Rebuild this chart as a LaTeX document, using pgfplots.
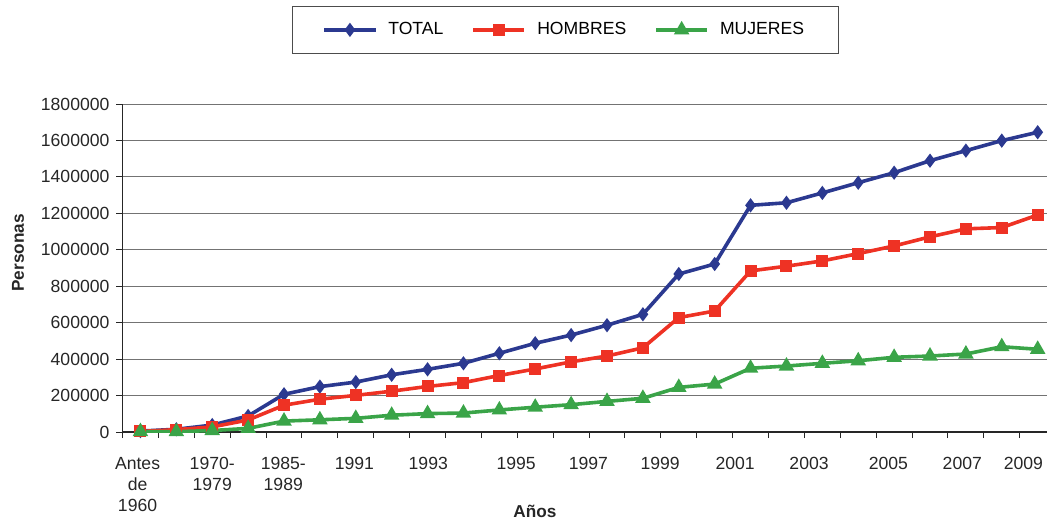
\documentclass[border=0pt]{standalone}
\usepackage{fontspec}
\setmainfont{Liberation Sans}
\usepackage{pgfplots}
\usepackage{pgfplotstable}
\pgfplotsset{compat=1.18}
\definecolor{cTotal}{RGB}{43,57,144}
\definecolor{cHom}{RGB}{238,50,36}
\definecolor{cMuj}{RGB}{58,164,72}
\pgfplotstableread{
idx total hombres mujeres
0 5000 3000 2000
1 15000 13000 2000
2 38000 28000 8000
3 88000 66000 20000
4 207000 147000 60000
5 249000 180000 67000
6 274000 201000 75000
7 314000 224000 92000
8 344000 250000 101000
9 377000 271000 104000
10 432000 310000 121000
11 487000 346000 136000
12 532000 385000 150000
13 586000 417000 168000
14 646000 462000 185000
15 867000 628000 245000
16 922000 664000 263000
17 1244000 884000 350000
18 1258000 910000 362000
19 1312000 939000 377000
20 1368000 979000 391000
21 1423000 1021000 410000
22 1489000 1071000 417000
23 1544000 1115000 428000
24 1599000 1122000 468000
25 1645000 1191000 454000
}\datatable
\begin{document}
\begin{tikzpicture}
\useasboundingbox (-61.25pt,-44pt) rectangle (462.25pt,216pt);
\begin{axis}[
  scale only axis, width=462.25pt, height=164pt,
  xmin=-0.5, xmax=25.26, ymin=0, ymax=1800000,
  axis x line*=bottom, axis y line*=left,
  axis line style={-, black!85, line width=0.6pt},
  tick style={black!85, line width=0.5pt},
  tick align=outside, major tick length=3pt,
  xtick={-0.5,0.5,...,24.5}, xticklabels={},
  extra x ticks={-0.08,2.0,3.98,5.96,8.02,10.47,12.48,14.48,16.57,18.63,20.84,22.9,24.6},
  extra x tick labels={{Antes\\de\\1960},{1970-\\1979},{1985-\\1989},1991,1993,1995,1997,1999,2001,2003,2005,2007,2009},
  extra x tick style={major tick length=0pt, xmajorgrids=false},
  x tick label style={align=center, font=\fontsize{8.8}{10.6}\selectfont, text=black!85, yshift=-9pt},
  ytick={0,200000,...,1800000},
  scaled y ticks=false,
  y tick label style={font=\fontsize{8.8}{10}\selectfont, text=black!85, /pgf/number format/fixed, /pgf/number format/1000 sep={}, /pgf/number format/assume math mode=true},
  ymajorgrids, grid style={black!55, line width=0.5pt},
  xlabel={Años}, ylabel={Personas},
  every axis x label/.style={at={(rel axis cs:0.446,0)}, yshift=-39.5pt, anchor=center, font=\bfseries\fontsize{8.6}{10}\selectfont, text=black!85},
  every axis y label/.style={at={(rel axis cs:0,0.546)}, xshift=-52.25pt, anchor=center, rotate=90, font=\bfseries\fontsize{8.6}{10}\selectfont, text=black!85},
  legend columns=3,
  legend style={at={(rel axis cs:0.479,1.226)}, anchor=center, draw=black!70, line width=0.5pt,
    font=\fontsize{8.8}{10}\selectfont, inner xsep=15pt, inner ysep=6pt,
    /tikz/every odd column/.append style={column sep=3.5pt},
    /tikz/every even column/.append style={column sep=12pt}},
  legend image code/.code={\draw[mark repeat=2,mark phase=2] plot coordinates {(0cm,0cm)(0.45cm,0cm)(0.9cm,0cm)};},
]
\addplot[cTotal, line width=1.8pt, mark=diamond*, mark size=2.1pt] table[x=idx, y=total] {\datatable};
\addlegendentry{TOTAL}
\addplot[cHom, line width=1.8pt, mark=square*, mark size=2.1pt] table[x=idx, y=hombres] {\datatable};
\addlegendentry{HOMBRES}
\addplot[cMuj, line width=1.8pt, mark=triangle*, mark size=2.7pt] table[x=idx, y=mujeres] {\datatable};
\addlegendentry{MUJERES}
\end{axis}
\end{tikzpicture}
\end{document}
